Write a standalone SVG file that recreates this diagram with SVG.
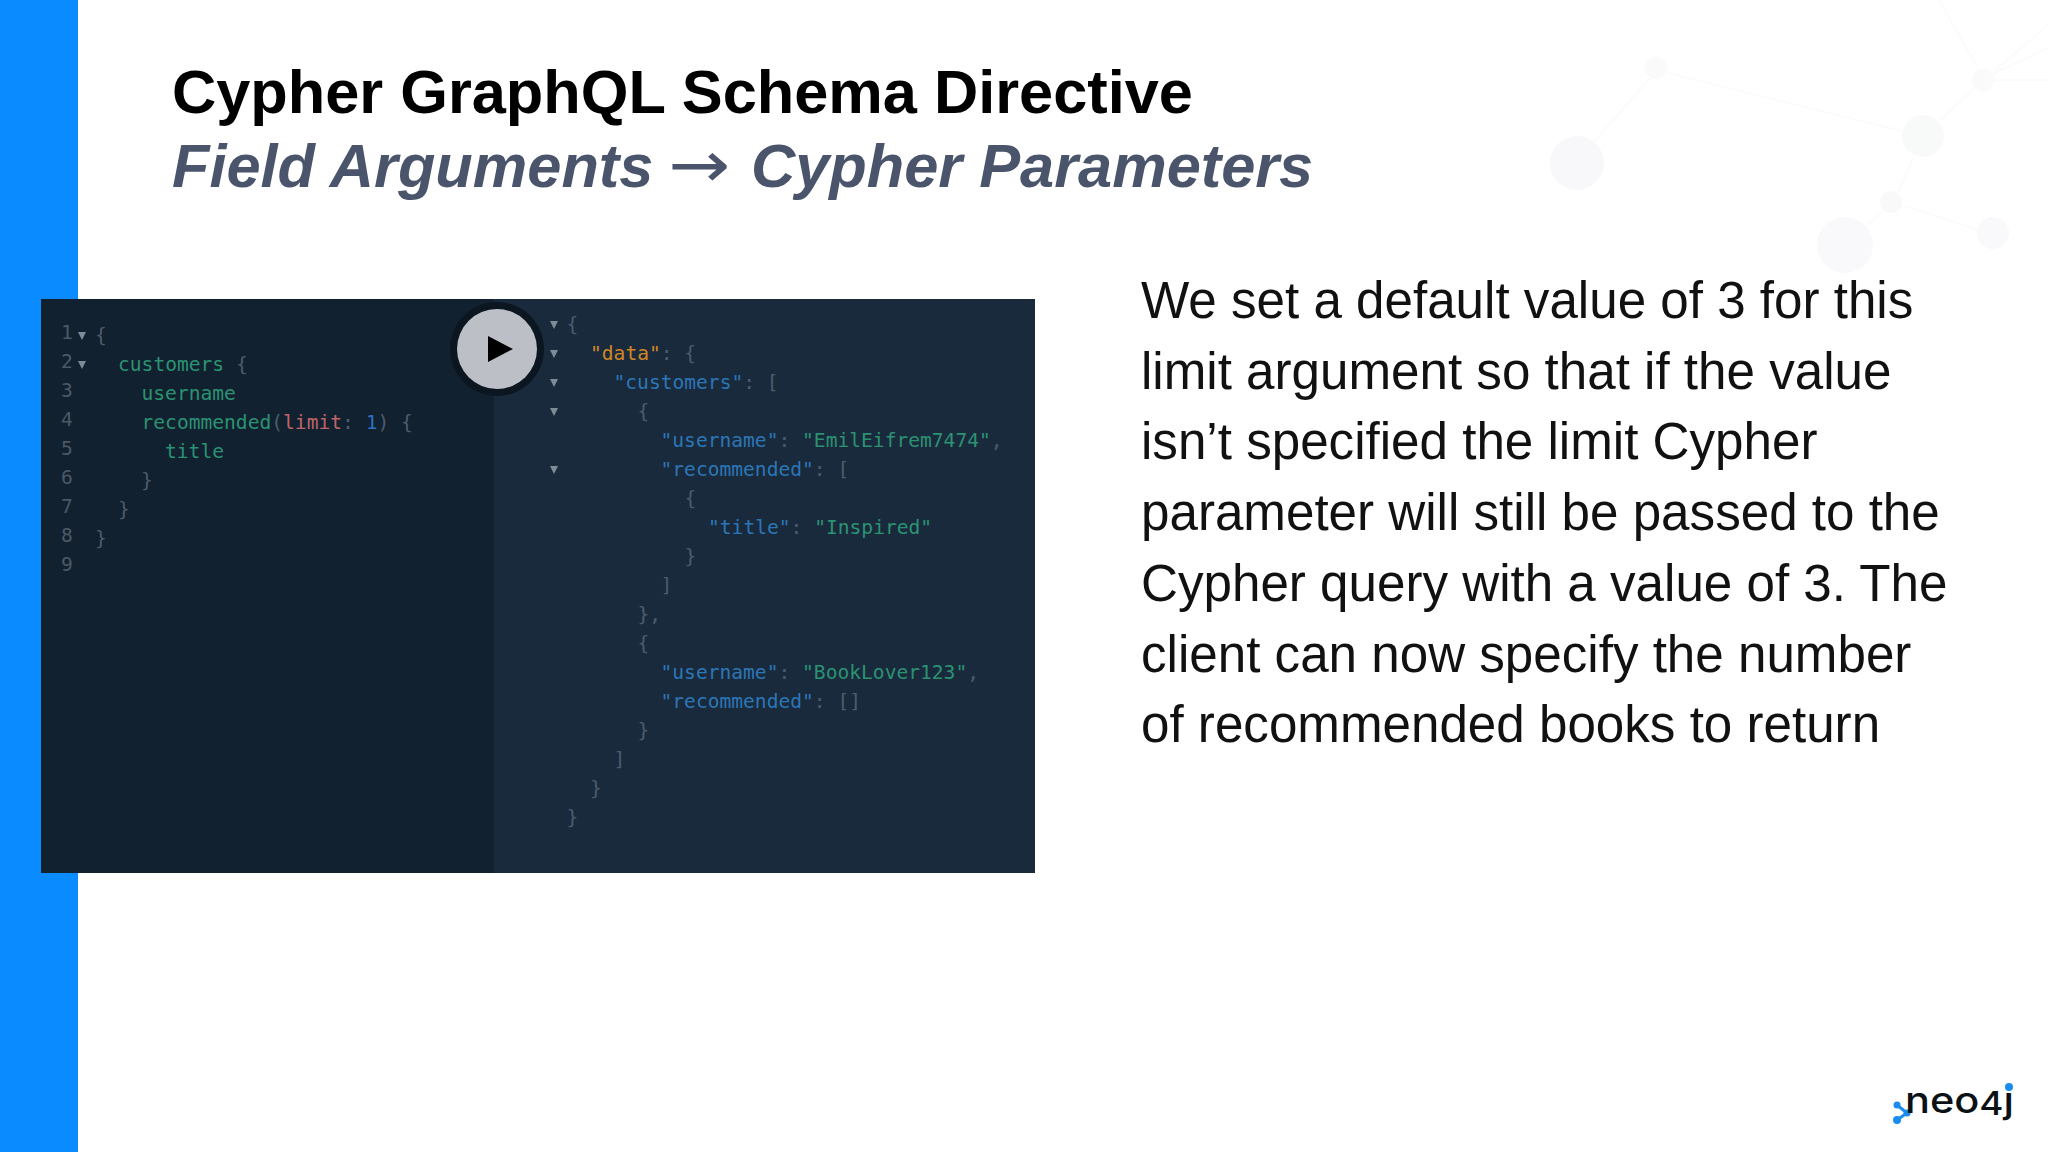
<svg xmlns="http://www.w3.org/2000/svg" width="2048" height="1152" viewBox="0 0 2048 1152">
<style>
.t{font-family:"Liberation Sans",Arial,sans-serif}
.h{font-size:61.3px;font-weight:700}
.b{font-size:51.15px;fill:#111}
.m{font-family:"DejaVu Sans Mono","Liberation Mono",monospace;font-size:19.6px;fill:#4d5c6c}
.n{fill:#4b5966}
.g{fill:#2b9272}
.c{fill:#2c76b5}
.o{fill:#cf8626}
.r{fill:#bf6468}
.u{fill:#2d6fc2}
.a{fill:#7f8c98}
.w{stroke:#fafbfa;stroke-width:2;fill:none}
</style>
<rect width="2048" height="1152" fill="#fff"/>
<g id="background-graph">
<path class="w" d="M1594 142L1650 78M1668 73L1902 131M1940 120L1975 88M1914 157L1898 192M1883 212L1867 225M1905 206L1979 230M1939 0L1979 70M1993 72L2048 25M1993 74L2048 48M1993 80L2048 80"/>
<circle cx="1577" cy="163" r="27" fill="#f8f8fa"/>
<circle cx="1656" cy="68" r="11" fill="#f9faf9"/>
<circle cx="1923" cy="136" r="21" fill="#f8f9f9"/>
<circle cx="1983" cy="80" r="11" fill="#f9faf9"/>
<circle cx="1891" cy="202" r="11" fill="#f9f9fa"/>
<circle cx="1845" cy="245" r="28" fill="#f9f8fa"/>
<circle cx="1993" cy="233" r="16" fill="#f9f8fa"/>
</g>
<rect id="sidebar" width="78" height="1152" fill="#0a8bff"/>
<g id="title">
<text class="t h" x="172" y="113" fill="#000">Cypher GraphQL Schema Directive</text>
<text class="t h" x="172" y="187" fill="#4a556c" font-style="italic">Field Arguments <tspan x="668" y="187" font-family="'DejaVu Sans',sans-serif" font-size="64" font-weight="400" font-style="normal" textLength="62" lengthAdjust="spacingAndGlyphs">→</tspan><tspan x="751" y="187">Cypher Parameters</tspan></text>
</g>
<g id="screenshot">
<rect x="41" y="299" width="994" height="574" fill="#1a2a3d"/>
<rect x="41" y="299" width="453" height="574" fill="#112130"/>
<g id="query">
<text class="m n" x="61" y="339">1</text>
<text class="m n" x="61" y="368">2</text>
<text class="m n" x="61" y="397">3</text>
<text class="m n" x="61" y="426">4</text>
<text class="m n" x="61" y="455">5</text>
<text class="m n" x="61" y="484">6</text>
<text class="m n" x="61" y="513">7</text>
<text class="m n" x="61" y="542">8</text>
<text class="m n" x="61" y="571">9</text>
<path class="a" d="M78 332h8l-4 8zM78 361h8l-4 8z"/>
<text class="m" x="95" y="342">{</text>
<text class="m" x="118" y="371"><tspan class="g">customers</tspan> {</text>
<text class="m g" x="141.500" y="400">username</text>
<text class="m" x="141.500" y="429"><tspan class="g">recommended</tspan>(<tspan class="r">limit</tspan>: <tspan class="u">1</tspan>) {</text>
<text class="m g" x="165" y="458">title</text>
<text class="m" x="141" y="487">}</text>
<text class="m" x="118" y="516">}</text>
<text class="m" x="95" y="545">}</text>
</g>
<g id="result">
<path class="a" d="M550 321h8l-4 8zM550 350h8l-4 8zM550 379h8l-4 8zM550 408h8l-4 8zM550 466h8l-4 8z"/>
<text class="m" x="566.500" y="331">{</text>
<text class="m" x="590" y="360"><tspan class="o">"data"</tspan>: {</text>
<text class="m" x="613.500" y="389"><tspan class="c">"customers"</tspan>: [</text>
<text class="m" x="637.500" y="418">{</text>
<text class="m" x="660.500" y="447"><tspan class="c">"username"</tspan>: <tspan class="g">"EmilEifrem7474"</tspan>,</text>
<text class="m" x="660.500" y="476"><tspan class="c">"recommended"</tspan>: [</text>
<text class="m" x="684.500" y="505">{</text>
<text class="m" x="708" y="534"><tspan class="c">"title"</tspan>: <tspan class="g">"Inspired"</tspan></text>
<text class="m" x="684.500" y="563">}</text>
<text class="m" x="660.500" y="592">]</text>
<text class="m" x="637.500" y="621">},</text>
<text class="m" x="637.500" y="650">{</text>
<text class="m" x="660.500" y="679"><tspan class="c">"username"</tspan>: <tspan class="g">"BookLover123"</tspan>,</text>
<text class="m" x="660.500" y="708"><tspan class="c">"recommended"</tspan>: []</text>
<text class="m" x="637.500" y="737">}</text>
<text class="m" x="613.500" y="766">]</text>
<text class="m" x="590" y="795">}</text>
<text class="m" x="566.500" y="824">}</text>
</g>
<g id="play-button">
<circle cx="497" cy="349" r="47" fill="#0c1620"/>
<circle cx="497" cy="349" r="40" fill="#bcc0c6"/>
<path d="M488 336L513 349L488 362z" fill="#000"/>
</g>
</g>
<g id="body" class="t b">
<text x="1141" y="318">We set a default value of 3 for this</text>
<text x="1141" y="388.700">limit argument so that if the value</text>
<text x="1141" y="459.400">isn’t specified the limit Cypher</text>
<text x="1141" y="530.100">parameter will still be passed to the</text>
<text x="1141" y="600.800">Cypher query with a value of 3. The</text>
<text x="1141" y="671.500">client can now specify the number</text>
<text x="1141" y="742.200">of recommended books to return</text>
</g>
<g id="logo">
<path d="M1897 1105L1907 1113L1897 1120" fill="none" stroke="#1a8cf0" stroke-width="3"/>
<circle cx="1897" cy="1105" r="3.500" fill="#1a8cf0"/>
<circle cx="1907" cy="1113" r="3.500" fill="#1a8cf0"/>
<circle cx="1897" cy="1120" r="4" fill="#1a8cf0"/>
<text x="1905" y="1113" font-family="Inter,sans-serif" font-size="36" font-weight="500" fill="#0b1115" textLength="109" lengthAdjust="spacingAndGlyphs">neo<tspan font-size="32" dy="2">4</tspan><tspan dy="-2">j</tspan></text>
<circle cx="2009" cy="1087" r="4" fill="#1a8cf0"/>
</g>
</svg>
